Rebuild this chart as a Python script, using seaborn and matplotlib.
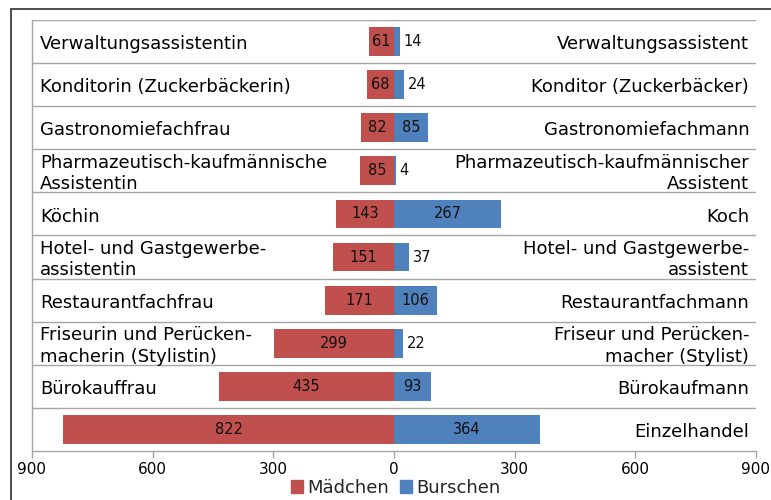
import matplotlib
matplotlib.use("Agg")
import matplotlib.pyplot as plt
from matplotlib.lines import Line2D
import pandas as pd
import seaborn as sns

# data, top row first
left_labels = ["Verwaltungsassistentin", "Konditorin (Zuckerbäckerin)",
               "Gastronomiefachfrau", "Pharmazeutisch-kaufmännische\nAssistentin",
               "Köchin", "Hotel- und Gastgewerbe-\nassistentin", "Restaurantfachfrau",
               "Friseurin und Perücken-\nmacherin (Stylistin)", "Bürokauffrau", ""]
right_labels = ["Verwaltungsassistent", "Konditor (Zuckerbäcker)",
                "Gastronomiefachmann", "Pharmazeutisch-kaufmännischer\nAssistent",
                "Koch", "Hotel- und Gastgewerbe-\nassistent", "Restaurantfachmann",
                "Friseur und Perücken-\nmacher (Stylist)", "Bürokaufmann", "Einzelhandel"]
maedchen = [61, 68, 82, 85, 143, 151, 171, 299, 435, 822]
burschen = [14, 24, 85, 4, 267, 37, 106, 22, 93, 364]
ticks = [-900, -600, -300, 0, 300, 600, 900]

RED = "#C0504D"
BLUE = "#4F81BD"
GRID = "#A6A6A6"

sns.set_style("white")
plt.rcParams['font.family'] = ['DejaVu Sans']

df = pd.DataFrame({'row': [str(i) for i in range(len(maedchen))],
                   'maedchen': [-v for v in maedchen],
                   'burschen': burschen})

fig = plt.figure(figsize=(7.71, 5.00), dpi=100)
ax = fig.add_axes([32 / 771, 1 - 451 / 500, (756 - 32) / 771, (451 - 20) / 500])

sns.barplot(data=df, x='maedchen', y='row', color=RED, width=0.67,
            saturation=1, ax=ax, orient='h', linewidth=0, edgecolor='none')
sns.barplot(data=df, x='burschen', y='row', color=BLUE, width=0.67,
            saturation=1, ax=ax, orient='h', linewidth=0, edgecolor='none')

n = len(maedchen)
ax.set_xlim(-900, 900)
ax.set_ylim(n - 0.5, -0.5)

# row separators
for i in range(n):
    ax.axhline(i - 0.5, color=GRID, lw=1.0, zorder=0)

# value labels
for i, (m, b) in enumerate(zip(maedchen, burschen)):
    ax.text(-m / 2, i, str(m), ha='center', va='center', fontsize=10.5,
            color='#111111')
    if b >= 60:
        ax.text(b / 2, i, str(b), ha='center', va='center', fontsize=10.5,
                color='#111111')
    else:
        ax.annotate(str(b), (b, i), xytext=(3, 0), textcoords='offset points',
                    ha='left', va='center', fontsize=10.5, color='#111111')

# category labels inside the plot area
for i, (l, r) in enumerate(zip(left_labels, right_labels)):
    ax.text(-880, i + 0.06, l, ha='left', va='center', fontsize=13,
            linespacing=1.25, color='black')
    ax.text(883, i + 0.06, r, ha='right', va='center', fontsize=13,
            linespacing=1.25, multialignment='right', color='black')

ax.set_xticks(ticks)
ax.set_xticklabels([str(abs(t)) for t in ticks], fontsize=11)
ax.set_yticks([])
ax.set_xlabel('')
ax.set_ylabel('')
ax.tick_params(axis='x', direction='out', length=5, width=1, color=GRID,
               bottom=True, pad=3, labelcolor='black')

for s in ['top', 'right']:
    ax.spines[s].set_visible(False)
for s in ['left', 'bottom']:
    ax.spines[s].set_color(GRID)
    ax.spines[s].set_linewidth(1.0)

# legend
handles = [plt.Rectangle((0, 0), 1, 1, color=RED), plt.Rectangle((0, 0), 1, 1, color=BLUE)]
fig.legend(handles, ["Mädchen", "Burschen"], loc='center', ncol=2,
           bbox_to_anchor=(0.513, 0.024), frameon=False,
           handlelength=0.7, handleheight=0.7, handletextpad=0.2,
           columnspacing=0.6, prop={'size': 13})

# outer chart frame
fx = 11 / 771
fy = 1 - 9 / 500
fig.add_artist(Line2D([fx, fx], [0, fy], transform=fig.transFigure, color='#404040', lw=1.3))
fig.add_artist(Line2D([fx, 1], [fy, fy], transform=fig.transFigure, color='#404040', lw=1.3))

fig.savefig('out.png', dpi=100)
